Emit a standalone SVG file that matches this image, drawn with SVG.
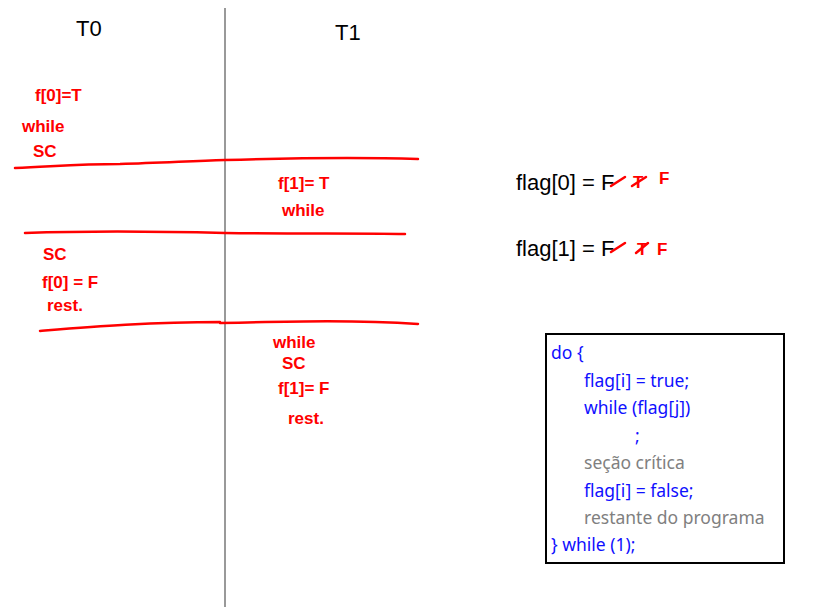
<svg xmlns="http://www.w3.org/2000/svg" width="829" height="607" viewBox="0 0 829 607">
<style>
.hdr{font-family:"Liberation Sans",Arial,sans-serif;font-size:22px;fill:#000}
.hw{font-family:"Liberation Sans",Arial,sans-serif;font-size:17px;fill:#ff0000;font-weight:bold}
.rl{fill:none;stroke:#ff0000;stroke-width:2.5;stroke-linecap:round;stroke-linejoin:round}
.code{font-family:"Noto Sans","Open Sans",sans-serif;font-size:17.5px}
.b{fill:#1010ff}
.g{fill:#808080}
</style>
<rect width="829" height="607" fill="#fff"/>
<g id="axis">
<line x1="225" y1="8" x2="225" y2="607" stroke="#777" stroke-width="1.5"/>
<text class="hdr" x="76" y="36">T0</text>
<text class="hdr" x="335" y="40">T1</text>
</g>
<g id="dividers">
<path class="rl" d="M15,168 C60,166 80,164 120,164 C160,163 190,161 225,160 C290,158 360,157 418,159"/>
<path class="rl" d="M25,233 C80,231 150,231 225,233 C300,234 360,233 405,234"/>
<path class="rl" d="M40,331 C90,327 150,322 220,322 M220,323 C300,321 360,320 418,324"/>
</g>
<g id="t0-notes">
<text class="hw" x="35" y="101">f[0]=T</text>
<text class="hw" x="22" y="132">while</text>
<text class="hw" x="33" y="157">SC</text>
<text class="hw" x="43" y="260">SC</text>
<text class="hw" x="42" y="288">f[0] = F</text>
<text class="hw" x="47" y="311">rest.</text>
</g>
<g id="t1-notes">
<text class="hw" x="278" y="189">f[1]= T</text>
<text class="hw" x="282" y="216">while</text>
<text class="hw" x="273" y="348">while</text>
<text class="hw" x="282" y="369">SC</text>
<text class="hw" x="278" y="394">f[1]= F</text>
<text class="hw" x="288" y="424">rest.</text>
</g>
<g id="flags">
<text class="hdr" x="516" y="190">flag[0] = F</text>
<path class="rl" d="M611,186 L625,177"/>
<text class="hw" x="633" y="188" font-size="15">T</text>
<path class="rl" d="M632,186 L646,177"/>
<text class="hw" x="659" y="184" font-size="12">F</text>
<text class="hdr" x="516" y="256">flag[1] = F</text>
<path class="rl" d="M611,252 L625,243"/>
<text class="hw" x="637" y="255" font-size="15">T</text>
<path class="rl" d="M636,253 L648,243"/>
<text class="hw" x="657" y="255" font-size="12">F</text>
</g>
<g id="code-box">
<rect x="546" y="334" width="238" height="229" fill="#fff" stroke="#000" stroke-width="2"/>
<text class="code b" x="551" y="359">do {</text>
<text class="code b" x="584" y="387">flag[i] = true;</text>
<text class="code b" x="584" y="414">while (flag[j])</text>
<text class="code b" x="635" y="442">;</text>
<text class="code g" x="584" y="469">seção crítica</text>
<text class="code b" x="584" y="497">flag[i] = false;</text>
<text class="code g" x="584" y="524">restante do programa</text>
<text class="code b" x="551" y="551">} while (1);</text>
</g>
</svg>
